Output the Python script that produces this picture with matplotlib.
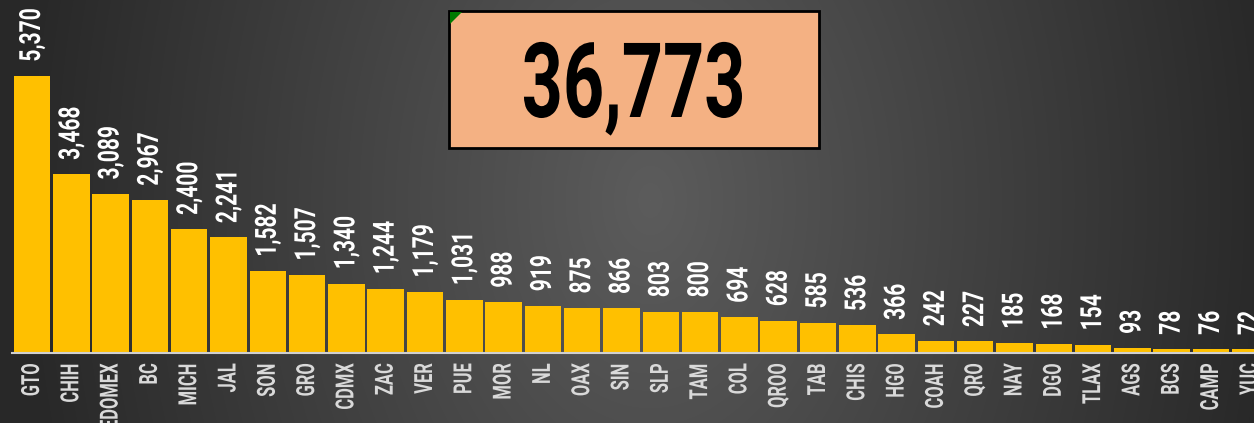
import numpy as np
import matplotlib
matplotlib.use("Agg")
import matplotlib.pyplot as plt
from matplotlib.patches import Rectangle, Polygon
from matplotlib.patheffects import AbstractPathEffect
from matplotlib.transforms import Affine2D

states = ["GTO", "CHIH", "EDOMEX", "BC", "MICH", "JAL", "SON", "GRO", "CDMX", "ZAC",
          "VER", "PUE", "MOR", "NL", "OAX", "SIN", "SLP", "TAM", "COL", "QROO",
          "TAB", "CHIS", "HGO", "COAH", "QRO", "NAY", "DGO", "TLAX", "AGS", "BCS",
          "CAMP", "YUC"]
values = [5370, 3468, 3089, 2967, 2400, 2241, 1582, 1507, 1340, 1244,
          1179, 1031, 988, 919, 875, 866, 803, 800, 694, 628,
          585, 536, 366, 242, 227, 185, 168, 154, 93, 78,
          76, 72]
total = sum(values)

FONT = "Roboto"


class Condense(AbstractPathEffect):
    """Squeeze text glyphs along the writing direction (real text stays text)."""

    def __init__(self, sx, anchor="center"):
        super().__init__()
        self.sx = sx
        self.anchor = anchor

    def draw_path(self, renderer, gc, tpath, affine, rgbFace=None):
        ext = tpath.get_extents()
        if self.anchor == "start":
            x0 = ext.x0
        elif self.anchor == "end":
            x0 = ext.x1
        else:
            x0 = 0.5 * (ext.x0 + ext.x1)
        t = Affine2D().translate(-x0, 0).scale(self.sx, 1.0).translate(x0, 0) + affine
        renderer.draw_path(gc, tpath, t, rgbFace)


W, H = 1254, 423
fig = plt.figure(figsize=(W / 100, H / 100), dpi=100)

# background radial gradient
bg = fig.add_axes([0, 0, 1, 1])
bg.set_axis_off()
yy, xx = np.mgrid[0:H, 0:W]
r = np.sqrt(((xx - 650) / 630.0) ** 2 + ((yy - 200) / 900.0) ** 2)
r = np.clip(r, 0, 1)
light = np.array([0x5c, 0x5c, 0x5c]) / 255.0
dark = np.array([0x28, 0x28, 0x28]) / 255.0
img = light[None, None, :] * (1 - r[..., None]) + dark[None, None, :] * r[..., None]
bg.imshow(img, extent=[0, W, H, 0], aspect="auto")
bg.set_xlim(0, W)
bg.set_ylim(H, 0)

ax = fig.add_axes([0, 0, 1, 1])
ax.patch.set_alpha(0)
ax.set_axis_off()
step = 39.3
x0 = 32
scale = 277 / 5370.0
ax.set_xlim(-x0 / step, (W - x0) / step)
ax.set_ylim(-70 / scale, (H - 70) / scale)

x = np.arange(len(states))
ax.bar(x, values, width=0.93, color="#FFC000", edgecolor="none", zorder=2)
ax.axhline(0, xmin=12 / W, xmax=1, color="#d0d0d0", lw=1.5, zorder=3)

for xi, v, s in zip(x, values, states):
    ax.annotate(f"{v:,}", (xi, v), xytext=(0, 14), textcoords="offset pixels",
                rotation=90, ha="center", va="bottom", color="white",
                fontsize=21, fontweight="bold", family=FONT,
                path_effects=[Condense(0.72, "start")])
    ax.annotate(s, (xi, 0), xytext=(0, -10), textcoords="offset pixels",
                rotation=90, ha="center", va="top", color="#d9d9d9",
                fontsize=18, fontweight="bold", family=FONT,
                path_effects=[Condense(0.66, "end")])

# total box
bx0, by0, bx1, by1 = 449, 11, 819, 148
bg.add_patch(Rectangle((bx0, by0), bx1 - bx0, by1 - by0, facecolor="#F4B183",
                       edgecolor="black", lw=2, zorder=5))
bg.add_patch(Polygon([(bx0 + 1, by0 + 1), (bx0 + 13, by0 + 1), (bx0 + 1, by0 + 13)],
                     closed=True, facecolor="#007a00", edgecolor="none", zorder=6))
bg.text((bx0 + bx1) / 2, 117, f"{total:,}", ha="center", va="baseline",
        fontsize=75, fontweight="bold", family=FONT, color="black", zorder=7,
        path_effects=[Condense(0.69, "center")])

fig.savefig("out.png", dpi=100)
